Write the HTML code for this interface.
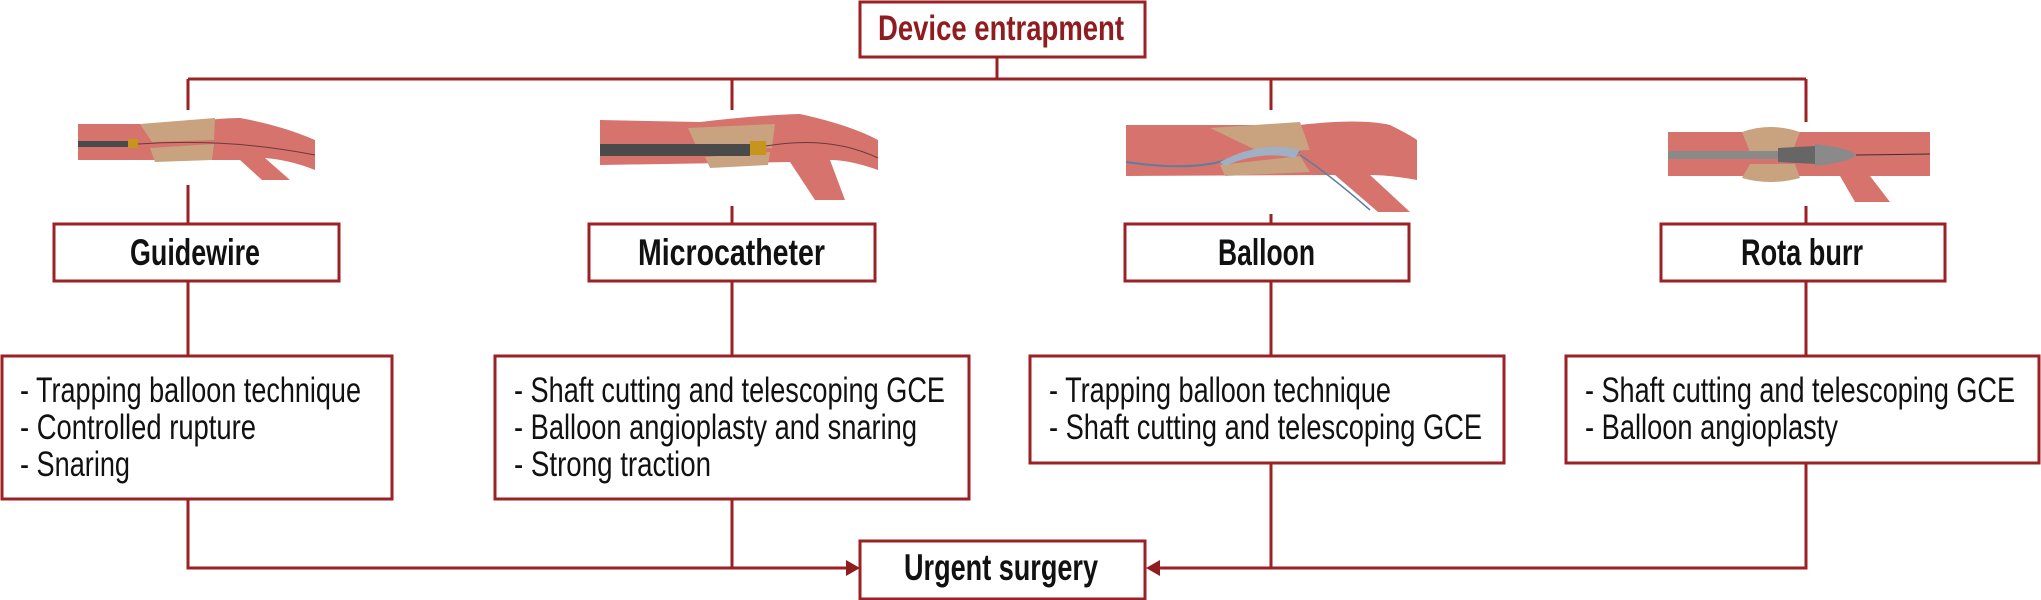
<!DOCTYPE html>
<html><head><meta charset="utf-8"><style>
html,body{margin:0;padding:0;background:#fff;}
svg{display:block;}
text{font-family:"Liberation Sans Narrow","Liberation Sans",sans-serif;}
</style></head><body>
<svg width="2041" height="600" viewBox="0 0 2041 600" xmlns="http://www.w3.org/2000/svg">
<g stroke="#9b2125" stroke-width="3" fill="none">
<line x1="997" y1="57" x2="997" y2="79"/>
<line x1="188" y1="79" x2="1806" y2="79"/>
<line x1="188" y1="79" x2="188" y2="224"/>
<line x1="732" y1="79" x2="732" y2="224"/>
<line x1="1271" y1="79" x2="1271" y2="224"/>
<line x1="1806" y1="79" x2="1806" y2="224"/>
<line x1="188" y1="281" x2="188" y2="356"/>
<line x1="732" y1="281" x2="732" y2="356"/>
<line x1="1271" y1="281" x2="1271" y2="356"/>
<line x1="1806" y1="281" x2="1806" y2="356"/>
<polyline points="188,499 188,568 850,568"/>
<line x1="732" y1="499" x2="732" y2="568"/>
<polyline points="1806,463 1806,568 1155,568"/>
<line x1="1271" y1="463" x2="1271" y2="568"/>
</g>
<path d="M846,560 L860,568 L846,576 z" fill="#8f1d1f"/>
<path d="M1160,560 L1146,568 L1160,576 z" fill="#8f1d1f"/>

<g>
<rect x="76" y="110" width="242" height="75" fill="#fff"/>
<path d="M78,124 L180,124 Q215,118 240,118 Q280,125 315,140 L315,170 Q290,160 265,158 L290,180 L262,180 L240,160 L78,160 z" fill="#d6736d"/>
<path d="M140,124 L215,118 L214,140 L152,142 z" fill="#c9a27f"/>
<path d="M150,148 L214,144 L212,160 L155,162 z" fill="#c9a27f"/>
<rect x="78" y="141" width="52" height="6" fill="#4a4a4a"/>
<rect x="128" y="139" width="10" height="9" fill="#c7951c"/>
<path d="M138,144 Q230,138 315,155" stroke="#6b3a3a" stroke-width="1" fill="none"/>
<rect x="596" y="110" width="284" height="96" fill="#fff"/>
<path d="M600,120 L700,122 Q760,115 800,114 Q850,125 878,140 L878,170 Q850,160 830,160 L845,200 L815,200 L790,162 L600,165 z" fill="#d6736d"/>
<path d="M688,128 L775,124 L772,148 L698,150 z" fill="#c9a27f"/>
<path d="M705,157 L770,152 L768,165 L710,168 z" fill="#c9a27f"/>
<rect x="600" y="144" width="150" height="12" fill="#4a4a4a"/>
<rect x="750" y="141" width="16" height="14" fill="#c7951c"/>
<path d="M766,146 Q830,135 878,158" stroke="#6b3a3a" stroke-width="1" fill="none"/>
<rect x="1122" y="110" width="298" height="104" fill="#fff"/>
<path d="M1126,125 L1300,125 Q1360,118 1390,125 Q1410,135 1417,140 L1417,180 Q1390,175 1370,175 L1410,212 L1378,212 L1335,175 L1126,176 z" fill="#d6736d"/>
<path d="M1210,128 L1300,122 L1310,150 L1260,152 z" fill="#c9a27f"/>
<path d="M1220,165 L1300,156 L1310,172 L1225,176 z" fill="#c9a27f"/>
<path d="M1126,162 Q1180,170 1215,163 Q1260,150 1300,152" stroke="#5a7fa0" stroke-width="2" fill="none"/>
<path d="M1220,162 Q1260,140 1300,150 L1295,158 Q1260,150 1225,166 z" fill="#9fb0c4"/>
<path d="M1300,155 Q1330,175 1370,210" stroke="#5a7fa0" stroke-width="1.5" fill="none"/>
<rect x="1664" y="122" width="270" height="84" fill="#fff"/>
<path d="M1668,132 L1930,132 L1930,176 L1870,176 L1890,202 L1855,202 L1840,176 L1668,176 z" fill="#d6736d"/>
<path d="M1742,132 Q1770,122 1800,132 L1792,152 L1750,152 z" fill="#c9a27f"/>
<path d="M1750,164 L1795,164 L1800,178 Q1770,186 1742,178 z" fill="#c9a27f"/>
<rect x="1668" y="151" width="110" height="8" fill="#8a8a8a"/>
<path d="M1778,148 L1815,146 L1815,164 L1778,162 z" fill="#666"/>
<path d="M1815,144 Q1850,148 1856,155 Q1850,162 1815,166 z" fill="#8a8a8a"/>
<line x1="1856" y1="155" x2="1930" y2="154" stroke="#333" stroke-width="1"/>
</g>

<g stroke="#9b2125" stroke-width="3" fill="#fff">
<rect x="860" y="2" width="285" height="55"/>
<rect x="54" y="224" width="285" height="57"/>
<rect x="589" y="224" width="286" height="57"/>
<rect x="1125" y="224" width="284" height="57"/>
<rect x="1661" y="224" width="284" height="57"/>
<rect x="2" y="356" width="390" height="143"/>
<rect x="495" y="356" width="474" height="143"/>
<rect x="1030" y="356" width="474" height="107"/>
<rect x="1566" y="356" width="473" height="107"/>
<rect x="860" y="541" width="285" height="58"/>
</g>

<g font-weight="bold" font-size="37" fill="#111">
<text x="878" y="40" fill="#8f1d1f" font-size="35" textLength="246" lengthAdjust="spacingAndGlyphs">Device entrapment</text>
<text x="130" y="265" textLength="130" lengthAdjust="spacingAndGlyphs">Guidewire</text>
<text x="638" y="265" textLength="187" lengthAdjust="spacingAndGlyphs">Microcatheter</text>
<text x="1218" y="265" textLength="97" lengthAdjust="spacingAndGlyphs">Balloon</text>
<text x="1741" y="265" textLength="122" lengthAdjust="spacingAndGlyphs">Rota burr</text>
<text x="904" y="580" textLength="194" lengthAdjust="spacingAndGlyphs">Urgent surgery</text>
</g>
<g font-size="35" fill="#111">
<text x="20" y="402" textLength="341" lengthAdjust="spacingAndGlyphs">- Trapping balloon technique</text>
<text x="20" y="439" textLength="236" lengthAdjust="spacingAndGlyphs">- Controlled rupture</text>
<text x="20" y="476" textLength="110" lengthAdjust="spacingAndGlyphs">- Snaring</text>
<text x="514" y="402" textLength="431" lengthAdjust="spacingAndGlyphs">- Shaft cutting and telescoping GCE</text>
<text x="514" y="439" textLength="403" lengthAdjust="spacingAndGlyphs">- Balloon angioplasty and snaring</text>
<text x="514" y="476" textLength="197" lengthAdjust="spacingAndGlyphs">- Strong traction</text>
<text x="1049" y="402" textLength="342" lengthAdjust="spacingAndGlyphs">- Trapping balloon technique</text>
<text x="1049" y="439" textLength="433" lengthAdjust="spacingAndGlyphs">- Shaft cutting and telescoping GCE</text>
<text x="1585" y="402" textLength="430" lengthAdjust="spacingAndGlyphs">- Shaft cutting and telescoping GCE</text>
<text x="1585" y="439" textLength="253" lengthAdjust="spacingAndGlyphs">- Balloon angioplasty</text>
</g>
</svg>
</body></html>
